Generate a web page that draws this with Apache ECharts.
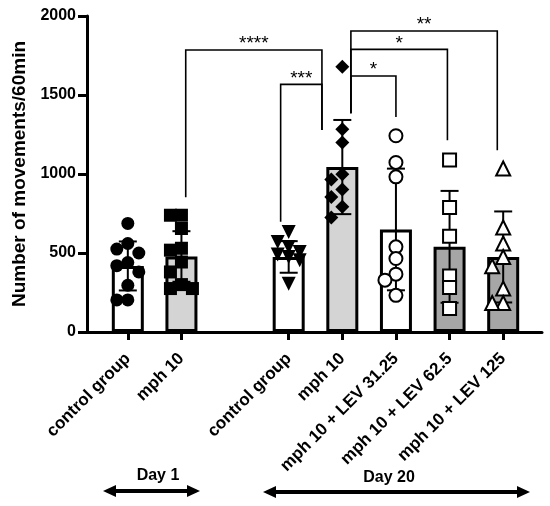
<!DOCTYPE html>
<html><head><meta charset="utf-8">
<script src="https://cdn.jsdelivr.net/npm/echarts@6/dist/echarts.min.js"></script>
<style>html,body{margin:0;padding:0;background:#fff}#c{width:550px;height:506px}</style>
</head><body><div id="c"></div>
<script>
// ---- data ----
const categories = ['control group','mph 10','','control group','mph 10','mph 10 + LEV 31.25','mph 10 + LEV 62.5','mph 10 + LEV 125'];
const groupPos = [0, 1, 3, 4, 5, 6, 7];
const groupMeans = [418, 478, 475, 1044, 649, 539, 475];
const groupSDs = [155, 160, 100, 298, 385, 354, 288];
const d1Control = [687, 560, 525, 500, 440, 420, 380, 296, 203, 203];
const d1Mph = [739, 739, 655, 530, 518, 443, 380, 300, 275, 275];
const d20Control = [633, 570, 538, 507, 490, 475, 454, 306];
const d20Mph = [1679, 1284, 1200, 999, 965, 902, 855, 792, 725];
const d20Lev31 = [1242, 1073, 982, 539, 465, 366, 328, 232];
const d20Lev62 = [1088, 788, 606, 355, 281, 148];
const d20Lev125 = [1035, 661, 560, 475, 416, 275, 184, 184];
const yTicks = [0, 500, 1000, 1500, 2000];
// significance brackets: category positions (fractional), leg bases and top in data units
const brackets = [
  {from: 1.08, fromBase: 853,  to: 3.62, toBase: 1278, top: 1785, label: '****'},
  {from: 2.85, fromBase: 697,  to: 3.62, toBase: 1278, top: 1567, label: '***'},
  {from: 4.16, fromBase: 1384, to: 5.00, toBase: 1360, top: 1620, label: '*'},
  {from: 4.16, fromBase: 1384, to: 5.96, toBase: 1214, top: 1789, label: '*'},
  {from: 4.16, fromBase: 1384, to: 6.89, toBase: 1150, top: 1905, label: '**'}
];

// ---- styles ----
const FONT = 'Liberation Sans, Arial, sans-serif';
const barFills = ['#ffffff', '#d4d4d4', '#ffffff', '#d4d4d4', '#ffffff', '#a6a6a6', '#a6a6a6'];
const pointStyles = [
  {symbol: 'circle', size: 13, rotate: 0, fill: '#000'},
  {symbol: 'rect', size: 13, rotate: 0, fill: '#000'},
  {symbol: 'triangle', size: 14, rotate: 180, fill: '#000'},
  {symbol: 'diamond', size: 14, rotate: 0, fill: '#000'},
  {symbol: 'circle', size: 13, rotate: 0, fill: '#fff'},
  {symbol: 'rect', size: 13, rotate: 0, fill: '#fff'},
  {symbol: 'triangle', size: 14, rotate: 0, fill: '#fff'}
];
const groups = [d1Control, d1Mph, d20Control, d20Mph, d20Lev31, d20Lev62, d20Lev125];

const W = 550, H = 506;
const gridTop = 16, gridBottom = 174;
const ppu = (H - gridTop - gridBottom) / 2000;

// beeswarm-like horizontal spreading (pixels), three columns
function spread(values) {
  const order = values.map((v, i) => i).sort((a, b) => values[b] - values[a]);
  const placed = [];
  const offs = new Array(values.length).fill(0);
  const cands = [0, -11, 11];
  order.forEach(i => {
    const y = values[i] * ppu;
    let chosen = null, best = -1, bestDx = 0;
    for (const dx of cands) {
      const md = placed.length ? Math.min(...placed.map(p => Math.hypot(p.dx - dx, p.y - y))) : Infinity;
      if (md >= 11) { chosen = dx; break; }
      if (md > best) { best = md; bestDx = dx; }
    }
    if (chosen === null) chosen = bestDx;
    placed.push({dx: chosen, y});
    offs[i] = chosen;
  });
  return offs;
}

const barData = categories.map(() => '-');
groupPos.forEach((p, k) => {
  barData[p] = {value: groupMeans[k], itemStyle: {color: barFills[k]}};
});

const scatterSeries = groups.map((vals, k) => {
  const offs = spread(vals);
  const st = pointStyles[k];
  return {
    type: 'scatter', xAxisIndex: 0, yAxisIndex: 0,
    symbol: st.symbol, symbolSize: st.size, symbolRotate: st.rotate,
    itemStyle: st.fill === '#000' ? {color: '#000', opacity: 1} : {color: '#fff', borderColor: '#000', borderWidth: 2, opacity: 1},
    data: vals.map((v, i) => ({value: [groupPos[k], v], symbolOffset: [offs[i], 0]})),
    z: 5, silent: true
  };
});

function renderErr(params, api) {
  const x = api.value(0), m = api.value(1), s = api.value(2);
  const t = api.coord([x, m + s]), b = api.coord([x, m - s]);
  const cap = 9;
  const st = {stroke: '#000', lineWidth: 2};
  return {type: 'group', children: [
    {type: 'line', shape: {x1: t[0], y1: t[1], x2: b[0], y2: b[1]}, style: st},
    {type: 'line', shape: {x1: t[0] - cap, y1: t[1], x2: t[0] + cap, y2: t[1]}, style: st},
    {type: 'line', shape: {x1: b[0] - cap, y1: b[1], x2: b[0] + cap, y2: b[1]}, style: st}
  ]};
}

function renderBracket(params, api) {
  const b = brackets[params.dataIndex];
  const bw = api.size([1, 0])[0];
  const px = x => { const i = Math.round(x); return api.coord([i, 0])[0] + (x - i) * bw; };
  const py = v => api.coord([0, v])[1];
  const x1 = px(b.from), x2 = px(b.to), yt = py(b.top);
  return {type: 'group', children: [
    {type: 'polyline', shape: {points: [[x1, py(b.fromBase)], [x1, yt], [x2, yt], [x2, py(b.toBase)]]},
     style: {stroke: '#000', lineWidth: 1.6, fill: null}},
    {type: 'text', style: {text: b.label, x: (x1 + x2) / 2, y: yt - 6, align: 'center', verticalAlign: 'middle',
      font: '19px ' + FONT, fill: '#000'}}
  ]};
}

const chart = echarts.init(document.getElementById('c'), null, {renderer: 'canvas'});

function arrow(x1, x2, y) {
  const hl = 13, hh = 6, w = 4;
  return [
    {type: 'rect', shape: {x: x1 + hl - 1, y: y - w / 2, width: x2 - x1 - 2 * hl + 2, height: w}, style: {fill: '#000'}},
    {type: 'polygon', shape: {points: [[x1, y], [x1 + hl, y - hh], [x1 + hl, y + hh]]}, style: {fill: '#000'}},
    {type: 'polygon', shape: {points: [[x2, y], [x2 - hl, y - hh], [x2 - hl, y + hh]]}, style: {fill: '#000'}}
  ];
}

const option = {
  animation: false,
  backgroundColor: '#fff',
  grid: [
    {left: 101, right: 20, top: gridTop, bottom: gridBottom},
    {left: 87, right: 8, top: gridTop, bottom: gridBottom}
  ],
  xAxis: [
    {type: 'category', gridIndex: 0, data: categories,
     axisLine: {show: false},
     axisTick: {show: true, alignWithLabel: true, length: 8, interval: (i) => categories[i] !== '', lineStyle: {color: '#000', width: 3}},
     axisLabel: {interval: 0, rotate: 45, margin: 24, color: '#000', fontFamily: FONT, fontWeight: 'bold', fontSize: 17},
     splitLine: {show: false}},
    {type: 'value', gridIndex: 1, min: 0, max: 1,
     axisLine: {show: true, lineStyle: {color: '#000', width: 3}},
     axisTick: {show: false}, axisLabel: {show: false}, splitLine: {show: false}}
  ],
  yAxis: [
    {type: 'value', gridIndex: 0, min: 0, max: 2000, interval: 500, show: false, splitLine: {show: false}},
    {type: 'value', gridIndex: 1, min: yTicks[0], max: yTicks[yTicks.length - 1], interval: 500,
     name: 'Number of movements/60min', nameLocation: 'middle', nameGap: 51,
     nameTextStyle: {color: '#000', fontFamily: FONT, fontWeight: 'bold', fontSize: 19},
     axisLine: {show: true, lineStyle: {color: '#000', width: 3}},
     axisTick: {show: true, length: 9, lineStyle: {color: '#000', width: 3}},
     axisLabel: {margin: 11, color: '#000', fontFamily: FONT, fontWeight: 'bold', fontSize: 16,
       formatter: v => String(v)},
     splitLine: {show: false}}
  ],
  series: [
    {type: 'bar', xAxisIndex: 0, yAxisIndex: 0, data: barData, barWidth: 32,
     itemStyle: {borderColor: '#000', borderWidth: 3}, silent: true, z: 2},
    {type: 'custom', xAxisIndex: 0, yAxisIndex: 0, renderItem: renderErr, z: 3, silent: true,
     data: groupPos.map((p, k) => [p, groupMeans[k], groupSDs[k]])},
    ...scatterSeries,
    {type: 'custom', xAxisIndex: 0, yAxisIndex: 0, renderItem: renderBracket, z: 6, silent: true,
     data: brackets.map(b => [Math.round(b.from), b.top])}
  ],
  graphic: [
    ...arrow(103, 200, 491),
    ...arrow(263, 530, 492),
    {type: 'text', style: {text: 'Day 1', x: 158, y: 476, align: 'center', verticalAlign: 'middle', font: 'bold 16px ' + FONT, fill: '#000'}},
    {type: 'text', style: {text: 'Day 20', x: 389, y: 478, align: 'center', verticalAlign: 'middle', font: 'bold 16px ' + FONT, fill: '#000'}}
  ]
};
chart.setOption(option);
</script>
</body></html>
